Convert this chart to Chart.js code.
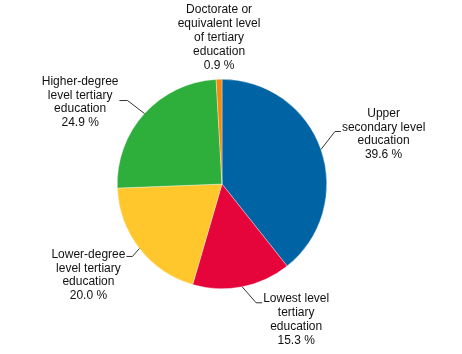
<!DOCTYPE html>
<html>
<head>
<meta charset="utf-8">
<script src="https://cdn.jsdelivr.net/npm/chart.js@4/dist/chart.umd.min.js"></script>
<style>
  html, body { margin: 0; padding: 0; background: #fff; }
  #wrap { width: 462px; height: 354px; }
</style>
</head>
<body>
<div id="wrap"><canvas id="pie-chart-canvas" width="462" height="354"></canvas></div>
<script>
// education levels, clockwise from 12 o'clock
const categories = [
    ['Upper', 'secondary level', 'education'],
    ['Lowest level', 'tertiary', 'education'],
    ['Lower-degree', 'level tertiary', 'education'],
    ['Higher-degree', 'level tertiary', 'education'],
    ['Doctorate or', 'equivalent level', 'of tertiary', 'education']
];
const shares = [39.6, 15.3, 20.0, 24.9, 0.9];
const colors = ['#0064a4', '#e5053a', '#ffc72c', '#2eae3b', '#f5890f'];

// where each label sits relative to its slice edge
const labelLayout = [
    { dx: 14, dy: -18, h: 6, side: 'right', first: -18 },
    { dx: 14, dy: 16, h: 6, side: 'right', first: -4 },
    { dx: -7, dy: 8, h: 6, side: 'left', first: -2 },
    { dx: -17, dy: -13, h: 8, side: 'left', first: -19 },
    { side: 'top', bottom: -14 }
];

const lineH = 13.8;

const sliceLabels = {
    id: 'sliceLabels',
    afterDatasetsDraw(chart) {
        const ctx = chart.ctx;
        const arcs = chart.getDatasetMeta(0).data;
        ctx.save();
        ctx.font = '12px "Liberation Sans", Arial, sans-serif';
        ctx.fillStyle = '#111';
        ctx.strokeStyle = '#333';
        ctx.lineWidth = 1;
        ctx.textAlign = 'center';
        ctx.textBaseline = 'middle';
        arcs.forEach((arc, i) => {
            const p = arc.getProps(['x', 'y', 'startAngle', 'endAngle', 'outerRadius'], true);
            const mid = (p.startAngle + p.endAngle) / 2;
            const ax = p.x + Math.cos(mid) * p.outerRadius;
            const ay = p.y + Math.sin(mid) * p.outerRadius;
            const lines = categories[i].concat([shares[i].toFixed(1) + ' %']);
            const maxW = Math.max(...lines.map(t => ctx.measureText(t).width));
            const lay = labelLayout[i];
            let cx, y0;
            if (lay.side === 'top') {
                cx = ax;
                y0 = ay + lay.bottom - (lines.length - 1) * lineH;
            } else {
                const ex = ax + lay.dx, ey = ay + lay.dy;
                const hx = ex + (lay.side === 'right' ? lay.h : -lay.h);
                ctx.beginPath();
                ctx.moveTo(ax, ay);
                ctx.lineTo(ex, ey);
                ctx.lineTo(hx, ey);
                ctx.stroke();
                cx = lay.side === 'right' ? hx + 1 + maxW / 2 : hx - 1 - maxW / 2;
                y0 = ey + lay.first;
            }
            lines.forEach((t, k) => ctx.fillText(t, cx, y0 + k * lineH));
        });
        ctx.restore();
    }
};

new Chart(document.getElementById('pie-chart-canvas').getContext('2d'), {
    type: 'pie',
    data: {
        labels: categories.map(c => c.join(' ')),
        datasets: [{
            data: shares,
            backgroundColor: colors,
            borderColor: 'rgba(255,255,255,0.7)',
            borderWidth: 0.5
        }]
    },
    options: {
        responsive: false,
        animation: false,
        layout: { padding: { left: 117, right: 135, top: 79, bottom: 65 } },
        plugins: {
            legend: { display: false },
            tooltip: { enabled: false }
        }
    },
    plugins: [sliceLabels]
});
</script>
</body>
</html>
